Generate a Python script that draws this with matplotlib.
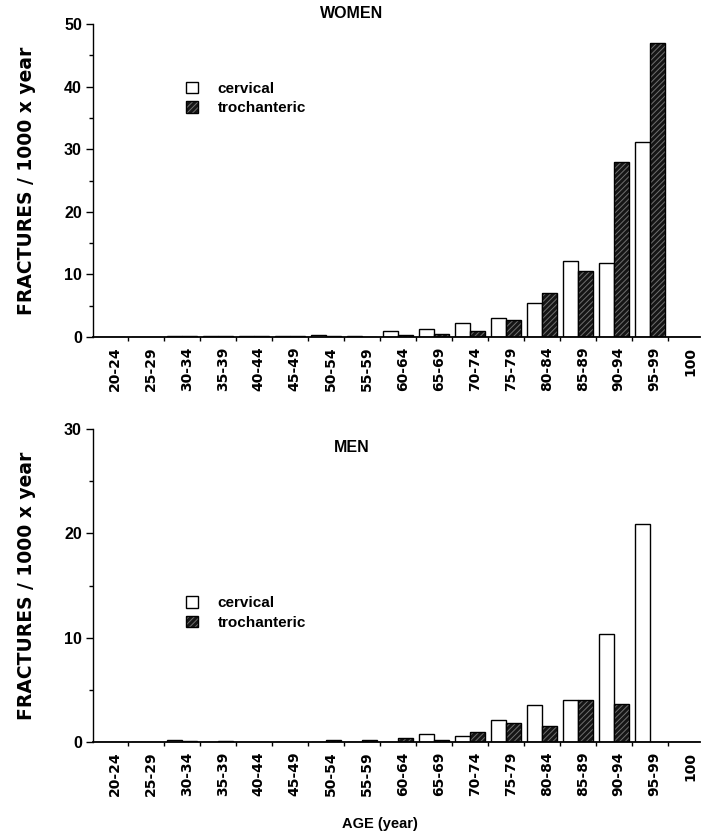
import matplotlib
matplotlib.use("Agg")
import matplotlib.pyplot as plt
from matplotlib.ticker import MultipleLocator, FixedLocator
import numpy as np

plt.rcParams['font.family'] = ['Liberation Sans', 'DejaVu Sans']
plt.rcParams['font.weight'] = 'bold'
plt.rcParams['hatch.linewidth'] = 0.7

age_groups = ["20-24", "25-29", "30-34", "35-39", "40-44", "45-49", "50-54", "55-59",
              "60-64", "65-69", "70-74", "75-79", "80-84", "85-89", "90-94", "95-99", "100"]

women_cervical = [0.05, 0.05, 0.1, 0.1, 0.1, 0.1, 0.3, 0.1, 1.0, 1.2, 2.2, 3.0, 5.4, 12.2, 11.8, 31.2, 0]
women_trochanteric = [0.05, 0.05, 0.1, 0.1, 0.1, 0.1, 0.2, 0.05, 0.3, 0.5, 0.9, 2.7, 7.0, 10.6, 28.0, 47.0, 0]

men_cervical = [0, 0, 0.15, 0, 0, 0, 0, 0, 0, 0.75, 0.55, 2.1, 3.5, 4.0, 10.35, 20.9, 0]
men_trochanteric = [0, 0, 0.05, 0.05, 0, 0, 0.2, 0.2, 0.4, 0.2, 1.0, 1.8, 1.5, 4.0, 3.6, 0, 0]

fig = plt.figure(figsize=(7.01, 8.39), dpi=100)
W, H = 701, 839

def add_axes(left, top, right, bottom):
    return fig.add_axes([left / W, 1 - bottom / H, (right - left) / W, (bottom - top) / H])

ax_w = add_axes(93, 24, 700, 337)
ax_m = add_axes(93, 429, 700, 742)

w = 0.42
x = np.arange(len(age_groups))

def panel(ax, cerv, troch, ymax, title, title_y, leg_anchor):
    c = ax.bar(x - w / 2, cerv, w, facecolor='white', edgecolor='black', linewidth=1.0, label='cervical')
    t1 = ax.bar(x + w / 2, troch, w, facecolor='#151515', edgecolor='#707070', hatch='//////', linewidth=0)
    t2 = ax.bar(x + w / 2, troch, w, fill=False, edgecolor='black', linewidth=1.0)
    ax.set_xlim(-0.47, 16.4)
    ax.set_ylim(0, ymax)
    for s in ['top', 'right']:
        ax.spines[s].set_visible(False)
    ax.spines['left'].set_linewidth(1.0)
    ax.spines['bottom'].set_linewidth(1.3)
    ax.yaxis.set_major_locator(MultipleLocator(10))
    ax.yaxis.set_minor_locator(MultipleLocator(5))
    ax.tick_params(axis='y', which='major', length=5, width=1, labelsize=11.5, pad=3)
    ax.tick_params(axis='y', which='minor', length=3, width=1)
    ax.set_xticks(x + 0.14)
    ax.set_xticklabels(age_groups, rotation=90, fontsize=10, fontweight='bold',
                       family=['DejaVu Sans'])
    ax.tick_params(axis='x', which='major', length=0, pad=7)
    ax.xaxis.set_minor_locator(FixedLocator(x[:-1] + 0.5))
    ax.tick_params(axis='x', which='minor', length=3, width=1)
    for lab in ax.get_yticklabels():
        lab.set_fontweight('bold')
    ax.set_ylabel("FRACTURES / 1000 x year", fontsize=13.5, fontweight='bold', labelpad=20,
                  family=['DejaVu Sans'])
    fig.text(352 / W, 1 - title_y / H, title, ha='center', va='center', fontsize=11.5, fontweight='bold')
    ax.legend([c[0], (t1[0], t2[0])], ['cervical', 'trochanteric'], loc='upper left',
              bbox_to_anchor=leg_anchor, frameon=False, handlelength=0.8, handleheight=0.8,
              handletextpad=1.3, labelspacing=0.35, prop={'size': 11, 'weight': 'bold'})

panel(ax_w, women_cervical, women_trochanteric, 50, "WOMEN", 13, (0.13, 0.86))
panel(ax_m, men_cervical, men_trochanteric, 30, "MEN", 447, (0.13, 0.51))

fig.text(380 / W, 1 - 824 / H, "AGE (year)", ha='center', va='center', fontsize=10.5, fontweight='bold')

fig.savefig("out.png", dpi=100)
